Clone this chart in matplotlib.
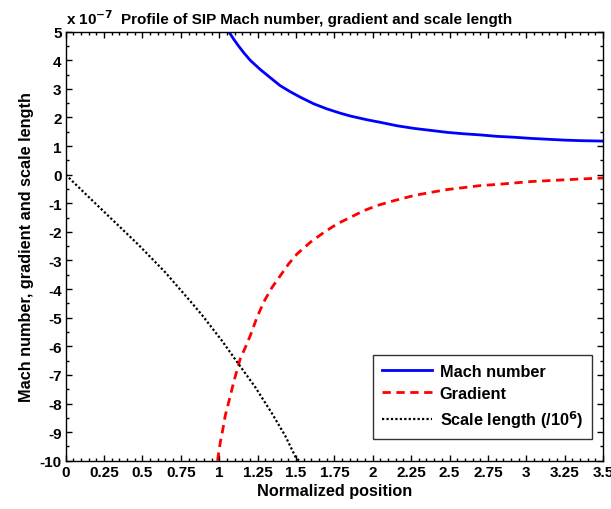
import matplotlib
matplotlib.use("Agg")
import matplotlib.pyplot as plt
from matplotlib.ticker import MultipleLocator

plt.rcParams['font.family'] = ['Liberation Sans', 'DejaVu Sans']
plt.rcParams['font.weight'] = 'bold'
plt.rcParams['axes.unicode_minus'] = False

# Values in units of 1e-7
mach_x = [1.065, 1.094, 1.126, 1.159, 1.202, 1.267, 1.333, 1.398, 1.463, 1.528, 1.615, 1.702,
          1.789, 1.855, 1.963, 2.050, 2.159, 2.267, 2.376, 2.485, 2.593, 2.702, 2.811, 2.920,
          3.028, 3.137, 3.246, 3.354, 3.50]
mach_y = [4.98, 4.74, 4.50, 4.27, 4.00, 3.68, 3.39, 3.11, 2.90, 2.71, 2.48, 2.30,
          2.15, 2.05, 1.92, 1.83, 1.71, 1.62, 1.55, 1.48, 1.43, 1.39, 1.34, 1.31,
          1.27, 1.24, 1.21, 1.19, 1.175]

grad_x = [0.989, 1.007, 1.024, 1.039, 1.067, 1.094, 1.115, 1.137, 1.170, 1.202, 1.246, 1.289,
          1.344, 1.398, 1.452, 1.507, 1.594, 1.681, 1.768, 1.855, 1.941, 2.028, 2.116, 2.181,
          2.267, 2.376, 2.485, 2.594, 2.702, 2.811, 2.920, 3.029, 3.137, 3.246, 3.355, 3.50]
grad_y = [-10.0, -9.36, -8.89, -8.43, -7.84, -7.26, -6.85, -6.44, -6.04, -5.63, -4.99, -4.46,
          -3.94, -3.53, -3.12, -2.77, -2.36, -2.02, -1.72, -1.49, -1.26, -1.08, -0.94, -0.85,
          -0.73, -0.62, -0.52, -0.45, -0.38, -0.34, -0.29, -0.24, -0.21, -0.18, -0.15, -0.115]

scale_x = [0.0, 0.148, 0.311, 0.474, 0.648, 0.800, 0.887, 1.017, 1.126, 1.235, 1.344, 1.430, 1.496, 1.52]
scale_y = [0.0, -0.77, -1.61, -2.45, -3.41, -4.35, -4.90, -5.80, -6.62, -7.43, -8.35, -9.13, -9.86, -10.0]

x_ticks = [0, 0.25, 0.5, 0.75, 1, 1.25, 1.5, 1.75, 2, 2.25, 2.5, 2.75, 3, 3.25, 3.5]
x_ticklabels = ['0', '0.25', '0.5', '0.75', '1', '1.25', '1.5', '1.75', '2', '2.25', '2.5', '2.75', '3', '3.25', '3.5']
y_ticks = list(range(-10, 6))

FS = 11
LFS = 11.7

fig = plt.figure(figsize=(6.11, 5.10), dpi=100)
ax = fig.add_axes([0.1075, 0.0947, 0.8795, 0.8412])

ax.plot(mach_x, mach_y, color='#0000ff', lw=2.0, label='Mach number')
ax.plot(grad_x, grad_y, color='#ff0000', lw=2.0, ls=(0, (3, 2)), label='Gradient')
ax.plot(scale_x, scale_y, color='black', lw=1.6, ls=(0, (1, 1)), label='Scale length (/10$^6$)')

ax.set_xlim(0, 3.5)
ax.set_ylim(-10, 5)
ax.set_xticks(x_ticks)
ax.set_xticklabels(x_ticklabels)
ax.set_yticks(y_ticks)
ax.xaxis.set_minor_locator(MultipleLocator(0.05))
ax.yaxis.set_minor_locator(MultipleLocator(0.5))
ax.tick_params(which='both', direction='in', top=True, right=True, labelsize=FS, width=1.0, pad=3)
ax.tick_params(which='major', length=4)
ax.tick_params(which='minor', length=2.2)
for s in ax.spines.values():
    s.set_linewidth(1.0)

for lab in ax.get_xticklabels() + ax.get_yticklabels():
    lab.set_fontweight('bold')

ax.set_xlabel('Normalized position', fontsize=LFS, fontweight='bold', labelpad=3)
ax.set_ylabel('Mach number, gradient and scale length', fontsize=LFS, fontweight='bold', labelpad=4)
ax.set_title('Profile of SIP Mach number, gradient and scale length', fontsize=FS, fontweight='bold',
             pad=6, x=0.467)
ax.text(0.0, 1.012, 'x 10$^{-7}$', transform=ax.transAxes, fontsize=FS, fontweight='bold',
        ha='left', va='bottom')

leg = ax.legend(loc='lower right', bbox_to_anchor=(0.9795, 0.0506), borderaxespad=0, fontsize=LFS,
                frameon=True, fancybox=False, edgecolor='black', handlelength=3.1, borderpad=0.55,
                labelspacing=0.45, handletextpad=0.45)
leg.get_frame().set_linewidth(1.0)
for t in leg.get_texts():
    t.set_fontweight('bold')

fig.savefig('out.png', dpi=100)
